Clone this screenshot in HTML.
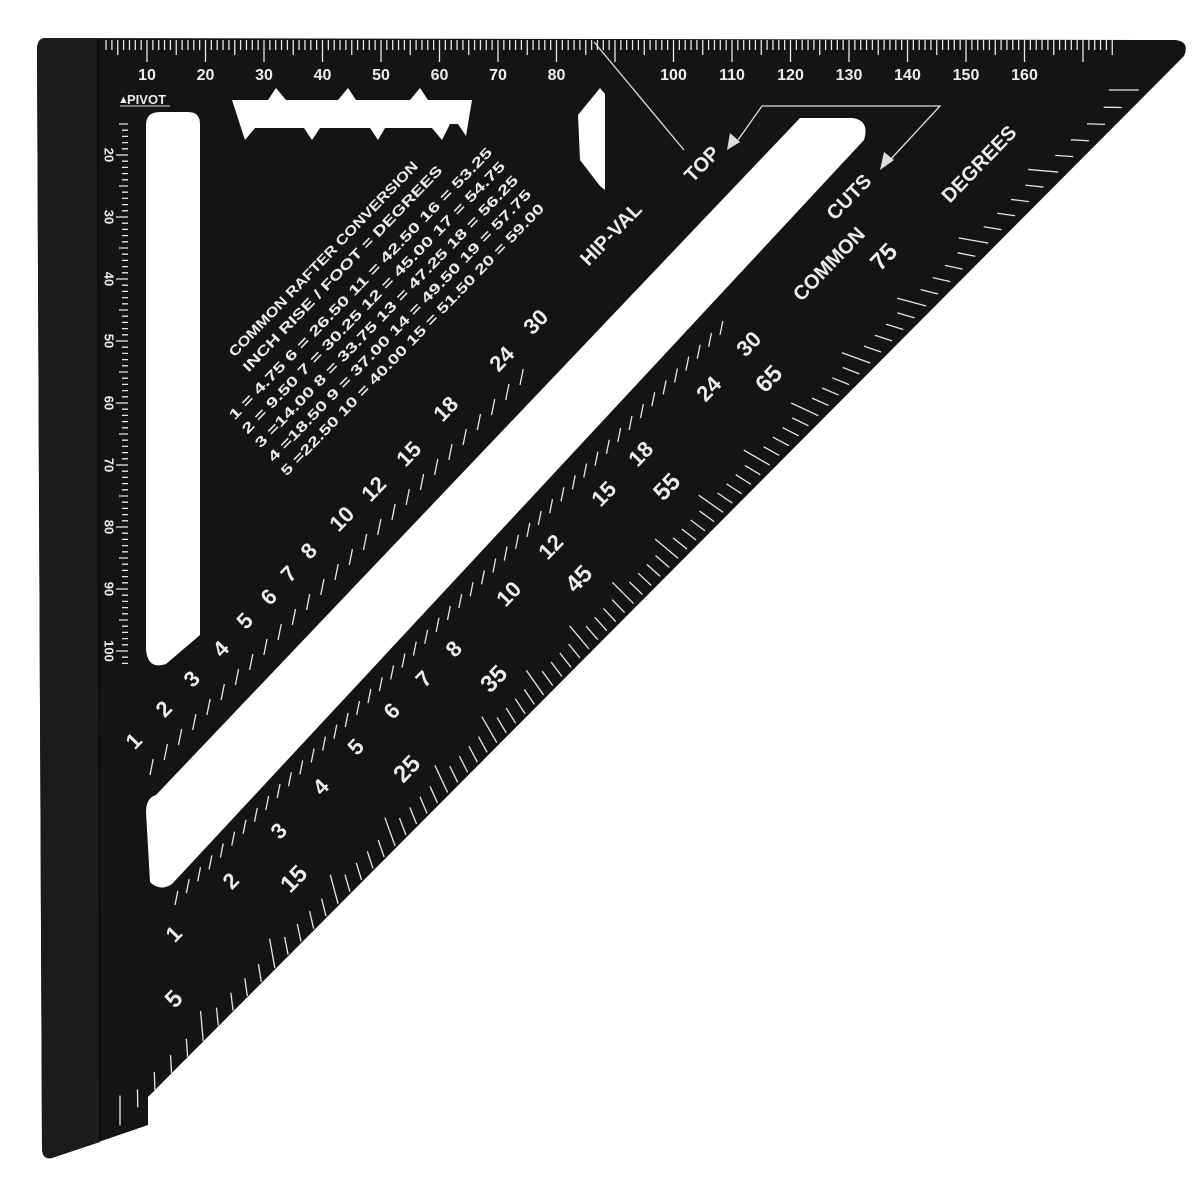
<!DOCTYPE html>
<html><head><meta charset="utf-8"><style>
html,body{margin:0;padding:0;background:#fff;width:1200px;height:1186px;overflow:hidden}
svg{display:block}
text{font-family:"Liberation Sans",sans-serif;fill:#ececec;font-weight:bold}
</style></head><body>
<svg id="s" width="1200" height="1186" viewBox="0 0 1200 1186" xmlns="http://www.w3.org/2000/svg">
<defs>
<clipPath id="tri"><path d="M45,38 L1176,40 Q1190,42 1184,56 L148,1097 L148,1125 L52,1158 Q42,1160 42,1148 L37,50 Q37,38 45,38 Z"/></clipPath>
</defs>
<path d="M45,38 L1176,40 Q1190,42 1184,56 L148,1097 L148,1125 L52,1158 Q42,1160 42,1148 L37,50 Q37,38 45,38 Z" fill="#141414"/>
<path d="M45,38 L98,38 L100,1142 L52,1158 Q42,1160 42,1148 L37,50 Q37,38 45,38 Z" fill="#1b1b1b"/>
<line x1="98" y1="40" x2="100" y2="1140" stroke="#0a0a0a" stroke-width="2"/>
<path d="M160,112 H188 Q200,112 200,124 V635 L166,664 Q148,670 146,650 V125 Q146,112 160,112 Z" fill="#fff"/>
<path d="M800,118 H852 Q870,120 864,140 L172,884 Q160,892 150,882 L146,812 Q146,798 156,795 Z" fill="#fff"/>
<path d="M232,100 L268,100 L276,88 L286,100 L338,100 L348,88 L356,100 L410,100 L420,88 L428,100 L472,100 L466,136 L458,124 L450,124 L442,140 L432,128 L385,128 L378,140 L370,128 L320,128 L312,140 L304,128 L255,128 L245,140 Z" fill="#fff"/>
<path d="M600,88 L605,94 L605,190 L600,186 L580,160 L578,115 Z" fill="#fff"/>
<g id="g" clip-path="url(#tri)" stroke="#e6e6e6" stroke-width="1.3"></g>
<g stroke="#ddd" stroke-width="1.3" fill="none">
<line x1="594" y1="42" x2="684" y2="150"/>
<polyline points="738,140 762,106 940,106 890,160"/>
</g>
<polygon points="727,150 730,133 740,142" fill="#ddd"/>
<polygon points="880,170 884,152 894,160" fill="#ddd"/>
<text x="118" y="103" font-size="11">▲</text>
<text x="127" y="104" font-size="13">PIVOT</text>
<line x1="120" y1="106" x2="170" y2="106" stroke="#ddd" stroke-width="1"/>
<g id="t"></g>
</svg>
<script>
var NS="http://www.w3.org/2000/svg",g=document.getElementById('g'),t=document.getElementById('t');
function L(x1,y1,x2,y2,p){var l=document.createElementNS(NS,'line');l.setAttribute('x1',x1);l.setAttribute('y1',y1);l.setAttribute('x2',x2);l.setAttribute('y2',y2);(p||g).appendChild(l);}
function T(x,y,s,fs,rot,anchor,tl){var e=document.createElementNS(NS,'text');e.setAttribute('x',x);e.setAttribute('y',y);e.setAttribute('font-size',fs);e.setAttribute('text-anchor',anchor||'middle');e.setAttribute('dominant-baseline','middle');if(tl){e.setAttribute('textLength',tl);e.setAttribute('lengthAdjust','spacingAndGlyphs');}if(rot!=null)e.setAttribute('transform','rotate('+rot+' '+x+' '+y+')');e.textContent=s;t.appendChild(e);}
for(var i=-8;i<=175;i++){var x=147+(i-10)*5.85;if(x<102||x>1178)continue;var len=i%10==0?22:(i%5==0?15:10);L(x,40,x,40+len);}
for(var n=10;n<=160;n+=10){if(n==90)continue;T(147+(n-10)*5.85,76,''+n,16,null);}
for(var j=12;j<=102;j++){var y=155+(j-20)*6.2;if(y<120||y>670)continue;var len=j%10==0?12:(j%5==0?9:6);L(128-len,y,128,y);}
for(var n=20;n<=100;n+=10){T(108,155+(n-20)*6.2,''+n,13,90);}
var px=120,py=90;
for(var d=0;d<=90;d+=1){var r=d*Math.PI/180,s=Math.sin(r),c=Math.cos(r);var tt=1078946/(1059*s+1042*c);var len=d%5==0?30:18;L(px+s*tt,py+c*tt,px+s*(tt-len),py+c*(tt-len));}
function edge(x0,y0,x1,y1,k,len){for(var i=0;i<=k;i++){var x=x0+(x1-x0)*i/k,y=y0+(y1-y0)*i/k;L(x,y,x+len*0.2,y-len);}}
edge(150,775,520,385,26,16);
edge(175,905,720,335,48,14);
var R=-46;
[["1",135,742],["2",165,710],["3",193,680],["4",222,650],["5",246,622],["6",270,598],["7",290,575],["8",310,552],["10",343,520],["12",375,490],["15",410,455],["18",447,410],["24",503,360],["30",537,323]].forEach(function(a){T(a[1],a[2],a[0],22,R);});
T(612,235,"HIP-VAL",20,R);T(703,165,"TOP",20,R);
[["1",175,935],["2",232,882],["3",280,832],["4",322,788],["5",357,748],["6",393,712],["7",425,680],["8",455,650],["10",510,595],["12",552,548],["15",605,495],["18",642,455],["24",710,390],["30",750,345]].forEach(function(a){T(a[1],a[2],a[0],22,R);});
T(830,265,"COMMON",20,R);T(850,198,"CUTS",20,R);T(980,165,"DEGREES",20,R);
[["5",175,1000],["15",295,880],["25",408,770],["35",495,680],["45",580,580],["55",668,488],["65",770,380],["75",885,258]].forEach(function(a){T(a[1],a[2],a[0],24,R);});
var rows=[["COMMON RAFTER CONVERSION",232,355,265],["INCH RISE / FOOT = DEGREES",246,370,280],
["1 = 4.75    6 = 26.50  11 = 42.50  16 = 53.25",232,418,372],
["2 = 9.50    7 = 30.25  12 = 45.00  17 = 54.75",245,432,372],
["3 =14.00   8 = 33.75  13 = 47.25  18 = 56.25",258,446,372],
["4 =18.50   9 = 37.00  14 = 49.50  19 = 57.75",271,460,372],
["5 =22.50  10 = 40.00  15 = 51.50  20 = 59.00",284,474,372]];
rows.forEach(function(a){T(a[1],a[2],a[0],14,R,'start',a[3]);});
</script>
</body></html>
